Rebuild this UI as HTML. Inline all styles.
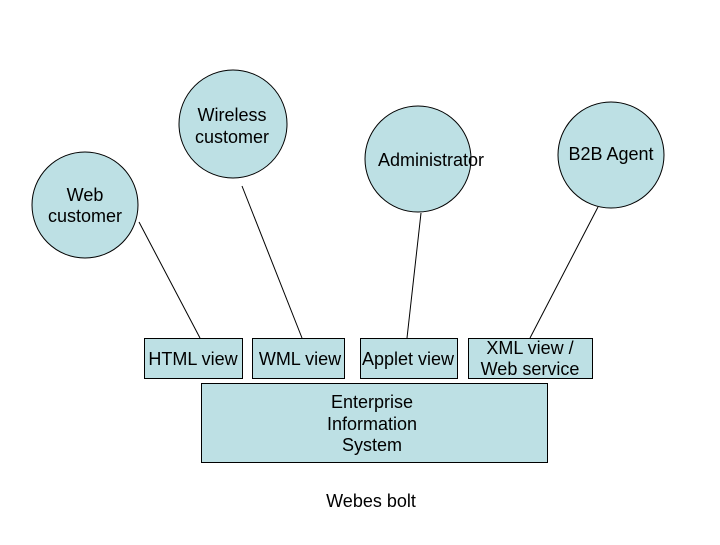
<!DOCTYPE html>
<html><head><style>
body{margin:0;background:#fff;}
svg text{font-family:"Liberation Sans",sans-serif;font-size:18px;fill:#000;}
</style></head><body>
<svg width="720" height="540" xmlns="http://www.w3.org/2000/svg">
<g fill="#bde0e4" stroke="#000" stroke-width="1">
<circle cx="85" cy="205" r="53"/>
<circle cx="233" cy="124" r="54"/>
<circle cx="418" cy="159" r="53"/>
<circle cx="611" cy="155" r="53"/>
<rect x="144.5" y="338.5" width="98" height="40"/>
<rect x="252.5" y="338.5" width="92" height="40"/>
<rect x="360.5" y="338.5" width="97" height="40"/>
<rect x="468.5" y="338.5" width="124" height="40"/>
<rect x="201.5" y="383.5" width="346" height="79"/>
</g>
<g stroke="#000" stroke-width="1">
<line x1="139" y1="222" x2="200" y2="338"/>
<line x1="242" y1="186" x2="302" y2="338"/>
<line x1="421" y1="213" x2="407" y2="338"/>
<line x1="598" y1="207" x2="530" y2="338"/>
</g>
<g text-anchor="middle">
<text x="85" y="201">Web</text><text x="85" y="222">customer</text>
<text x="232" y="121">Wireless</text><text x="232" y="143">customer</text>
<text x="431" y="166">Administrator</text>
<text x="611" y="160">B2B Agent</text>
<text x="193" y="365">HTML view</text>
<text x="300" y="365">WML view</text>
<text x="408" y="365">Applet view</text>
<text x="530" y="354">XML view /</text><text x="530" y="375">Web service</text>
<text x="372" y="408">Enterprise</text><text x="372" y="430">Information</text><text x="372" y="451">System</text>
<text x="371" y="507">Webes bolt</text>
</g>
</svg>
</body></html>
